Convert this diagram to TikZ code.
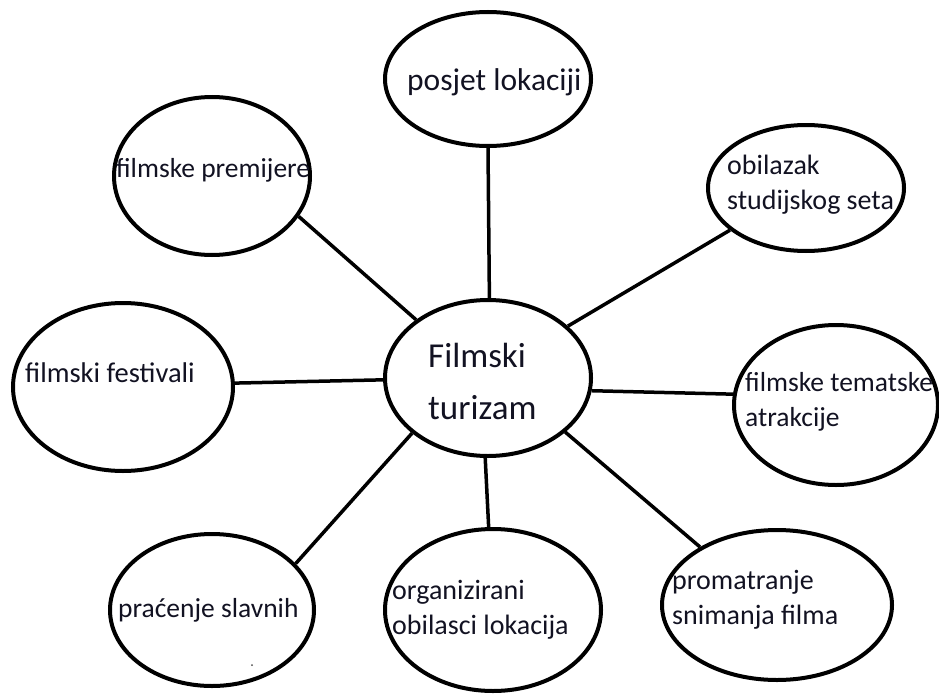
\documentclass[tikz,border=0pt]{standalone}
\usepackage{fontspec}
\setmainfont{Carlito}
\usetikzlibrary{shapes.geometric}
\definecolor{inkc}{RGB}{18,18,34}
\begin{document}
\begin{tikzpicture}[x=1pt,y=-1pt,
  bubble/.style={ellipse, draw=black, line width=4pt, inner sep=0pt},
  link/.style={line width=3.5pt, draw=black},
  lbl/.style={anchor=west, inner sep=0pt, align=left, text=inkc,
              font=\fontsize{28}{35}\selectfont}]
\useasboundingbox[fill=white] (0,0) rectangle (939,693);

% bubbles
\node[bubble, minimum width=206, minimum height=156] (C) at (488,378) {};
\node[bubble, minimum width=196, minimum height=158] (P) at (212,176) {};
\node[bubble, minimum width=206, minimum height=134] (L) at (488,79) {};
\node[bubble, minimum width=196, minimum height=126] (O) at (806,188) {};
\node[bubble, minimum width=220, minimum height=168] (F) at (123,387) {};
\node[bubble, minimum width=204, minimum height=160] (T) at (836,405) {};
\node[bubble, minimum width=230, minimum height=150] (R) at (777,605) {};
\node[bubble, minimum width=216, minimum height=162] (G) at (493,610) {};
\node[bubble, minimum width=204, minimum height=152] (S) at (212,610) {};

% labels
\node[lbl, font=\fontsize{35}{52}\selectfont] (tC) at (428,381) {Filmski\\turizam};
\node[lbl, font=\fontsize{27.5}{35}\selectfont] (tP) at (116,170) {filmske premijere};
\node[lbl, font=\fontsize{31.5}{38}\selectfont] (tL) at (407,82) {posjet lokaciji};
\node[lbl] (tO) at (727,185) {obilazak\\studijskog seta};
\node[lbl, font=\fontsize{28.5}{35}\selectfont] (tF) at (25,373) {filmski festivali};
\node[lbl, font=\fontsize{27.5}{35}\selectfont] (tT) at (745,402) {filmske tematske\\atrakcije};
\node[lbl] (tR) at (672,600) {promatranje\\snimanja filma};
\node[lbl] (tG) at (392,610) {organizirani\\obilasci lokacija};
\node[lbl, font=\fontsize{27.5}{35}\selectfont] (tS) at (118,610) {praćenje slavnih};

% spokes
\draw[link] (C.141) -- (P.-25.5);
\draw[link] (C.89) -- (L.-90);
\draw[link] (C.33.5) -- (O.-151.7);
\draw[link] (C.-7.6) -- (T.174.5);
\draw[link] (C.-35.8) -- (R.143.1);
\draw[link] (C.-92) -- (G.93.5);
\draw[link] (C.-144.8) -- (S.29);
\draw[link] (C.181) -- (F.2.5);

% stray speck
\fill[black!70] (252,665) circle (1);
\end{tikzpicture}
\end{document}
